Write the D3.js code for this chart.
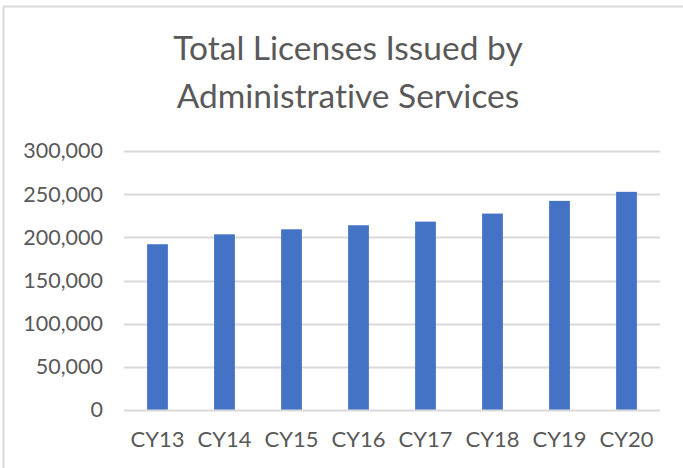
<!DOCTYPE html>
<html>
<head>
<meta charset="utf-8">
<script src="https://cdn.jsdelivr.net/npm/d3@7"></script>
<style>
  body { margin: 0; background: #fff; }
  svg { display: block; }
  text { font-variant-ligatures: none; }
</style>
</head>
<body>
<svg id="chart"></svg>
<script>
// chart data
const years = ["CY13", "CY14", "CY15", "CY16", "CY17", "CY18", "CY19", "CY20"];
const licenses = [192000, 203500, 209300, 214000, 218200, 227500, 242200, 252700];
const yTicks = [0, 50000, 100000, 150000, 200000, 250000, 300000];
const titleLines = ["Total Licenses Issued by", "Administrative Services"];

const width = 683;
const height = 468;
const margin = { top: 151, right: 23, bottom: 58, left: 124 };
const plotW = width - margin.left - margin.right;
const plotH = height - margin.top - margin.bottom;
const font = "Lato, 'Open Sans', sans-serif";

const svg = d3.select("#chart").attr("width", width).attr("height", height);

// chart area border (left + top visible)
svg.append("rect")
    .attr("x", 3.5).attr("y", 6.5)
    .attr("width", width + 10).attr("height", height + 10)
    .attr("fill", "#fff")
    .attr("stroke", "#d9d9d9")
    .attr("stroke-width", 2);

// title
svg.append("g")
    .selectAll("text")
    .data(titleLines)
    .enter()
    .append("text")
    .attr("x", 348)
    .attr("y", (d, i) => 60 + i * 48)
    .attr("text-anchor", "middle")
    .attr("fill", "#595959")
    .style("font-family", font)
    .style("font-size", "33.5px")
    .text(d => d);

const g = svg.append("g").attr("transform", `translate(${margin.left},${margin.top})`);

const x = d3.scaleBand().domain(years).range([0, plotW]).paddingInner(0.69).paddingOuter(0.345);
const y = d3.scaleLinear().domain([0, 300000]).range([plotH, 0]);

// gridlines
g.append("g")
    .selectAll("line")
    .data(yTicks.slice(1))
    .enter()
    .append("line")
    .attr("x1", 0).attr("x2", plotW)
    .attr("y1", d => Math.round(y(d)) + 0.5)
    .attr("y2", d => Math.round(y(d)) + 0.5)
    .attr("stroke", "#d9d9d9")
    .attr("stroke-width", 2);

// bars
g.append("g")
    .selectAll("rect")
    .data(years)
    .enter()
    .append("rect")
    .attr("x", d => x(d))
    .attr("y", (d, i) => y(licenses[i]))
    .attr("width", x.bandwidth())
    .attr("height", (d, i) => plotH - y(licenses[i]))
    .attr("fill", "#4472c4");

// x axis baseline
g.append("line")
    .attr("x1", 0).attr("x2", plotW)
    .attr("y1", plotH + 0.5).attr("y2", plotH + 0.5)
    .attr("stroke", "#d9d9d9")
    .attr("stroke-width", 2);

// y axis labels
const yAxis = g.append("g")
    .call(d3.axisLeft(y).tickValues(yTicks).tickSize(0).tickPadding(21).tickFormat(d3.format(",")));
yAxis.select(".domain").remove();
yAxis.selectAll("text")
    .attr("fill", "#595959")
    .style("font-family", font)
    .style("font-size", "21.5px");

// x axis labels
const xAxis = g.append("g")
    .attr("transform", `translate(0,${plotH})`)
    .call(d3.axisBottom(x).tickSize(0).tickPadding(21));
xAxis.select(".domain").remove();
xAxis.selectAll("text")
    .attr("fill", "#595959")
    .style("font-family", font)
    .style("font-size", "22px");
</script>
</body>
</html>
